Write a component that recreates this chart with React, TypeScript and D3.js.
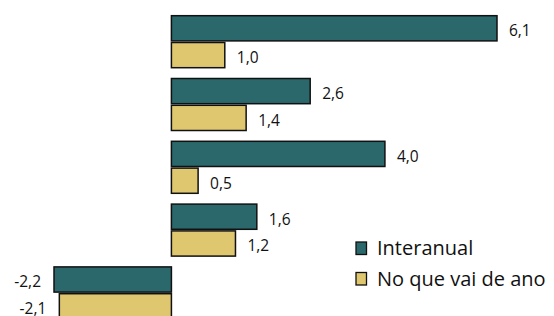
import React from 'react';
import * as d3 from 'd3';

const categories = ['g1', 'g2', 'g3', 'g4', 'g5'];
const seriesNames = ['Interanual', 'No que vai de ano'];
const interanual = [6.1, 2.6, 4.0, 1.6, -2.2];
const noQueVaiDeAno = [1.0, 1.4, 0.5, 1.2, -2.1];
const colors = ['#2a686b', '#dfc770'];

const fmt = (v: number) => v.toFixed(1).replace('.', ',');

export default function App() {
  const width = 554;
  const height = 316;
  const step = 62.8;
  const pad = 10.8 / step;

  const x = d3.scaleLinear().domain([-2.2, 6.1]).range([54, 497]);
  const y = d3.scaleBand<string>()
    .domain(categories)
    .range([15.7, 15.7 + step * (categories.length - pad)])
    .paddingInner(pad)
    .paddingOuter(0);
  const inner = d3.scaleBand<string>()
    .domain(seriesNames)
    .range([0, y.bandwidth()])
    .paddingInner(0.06);

  const series = [interanual, noQueVaiDeAno];
  const font = '"Open Sans", sans-serif';

  return (
    <svg width={width} height={height} style={{ position: 'absolute', left: 0, top: 0 }}>
      {categories.map((c, i) => (
        <g key={c} transform={`translate(0,${y(c)})`}>
          {series.map((s, j) => {
            const v = s[i];
            const by = inner(seriesNames[j])!;
            const bh = inner.bandwidth();
            const x0 = x(Math.min(0, v));
            const x1 = x(Math.max(0, v));
            return (
              <g key={j}>
                <rect x={x0} y={by} width={x1 - x0} height={bh}
                      fill={colors[j]} stroke="#111" strokeWidth={1.5} />
                <text x={v >= 0 ? x1 + 12 : x0 - 13} y={by + bh / 2 + 8}
                      textAnchor={v >= 0 ? 'start' : 'end'}
                      fontSize={15.5} fontFamily={font} fill="#111">{fmt(v)}</text>
              </g>
            );
          })}
        </g>
      ))}
      {seriesNames.map((n, j) => (
        <g key={n} transform={`translate(356,${242 + j * 30.5})`}>
          <rect x={0} y={0} width={10.5} height={12.5} fill={colors[j]} stroke="#111" strokeWidth={1.3} />
          <text x={21} y={13} fontSize={20} fontFamily={font} fill="#111">{n}</text>
        </g>
      ))}
    </svg>
  );
}
